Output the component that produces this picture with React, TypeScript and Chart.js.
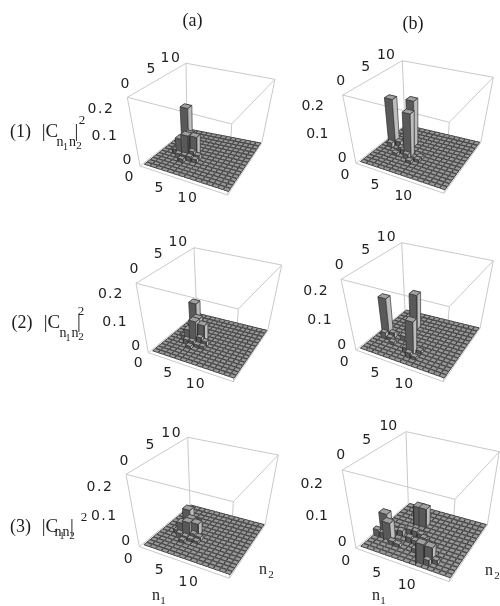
import React, { useEffect, useRef } from "react";
import { Chart, registerables } from "chart.js";

Chart.register(...registerables);

// ---- data: [n1, n2, |C|^2] for every cell that rises above the floor ----
const bars1a = [[3,8,0.175],[2,7,0.015],[3,7,0.06],[4,8,0.04],[4,7,0.085],[2,6,0.02],[3,6,0.07],[5,7,0.08],[4,6,0.09],[5,6,0.03],[3,5,0.02],[6,6,0.02],[4,5,0.02],[5,5,0.02],[6,5,0.015],[4,4,0.015]];
const bars1b = [[4,9,0.19],[1,8,0.19],[2,8,0.02],[1,7,0.02],[3,7,0.012],[4,7,0.012],[5,6,0.175],[4,6,0.02],[5,5,0.02],[7,5,0.012],[3,5,0.012],[7,6,0.012],[6,4,0.012]];
const bars2a = [[3,8,0.135],[3,7,0.05],[4,8,0.04],[4,7,0.09],[3,6,0.05],[5,7,0.07],[4,6,0.09],[5,6,0.03],[2,6,0.02],[3,5,0.02],[4,5,0.02],[6,6,0.02],[5,5,0.012],[6,5,0.012],[4,4,0.012]];
const bars2b = [[4,10,0.14],[1,6,0.15],[2,6,0.02],[1,5,0.025],[2,5,0.012],[5,7,0.015],[4,6,0.02],[7,3,0.13],[6,3,0.02],[7,2,0.02],[8,2,0.012],[3,4,0.012],[6,5,0.012],[8,4,0.012]];
const bars3a = [[3,8,0.08],[3,7,0.04],[4,8,0.04],[4,7,0.06],[3,6,0.05],[5,7,0.05],[4,6,0.06],[5,6,0.02],[2,6,0.015],[3,5,0.02],[4,5,0.015],[6,6,0.015],[5,5,0.012],[6,5,0.01],[4,4,0.012]];
const bars3b = [[1,5,0.08],[2,4,0.065],[0,4,0.025],[1,4,0.02],[4,10,0.07],[5,10,0.07],[2,6,0.015],[3,6,0.02],[4,7,0.02],[5,7,0.02],[6,7,0.015],[7,6,0.02],[7,5,0.02],[6,5,0.015],[5,5,0.02],[8,5,0.02],[3,3,0.015],[4,3,0.012],[7,3,0.015],[8,3,0.02],[9,1,0.07],[10,2,0.055],[9,2,0.015],[10,1,0.02],[11,2,0.015]];

const cellCount = 15;
const floorLevel = 0.003;
const wideFrom = 0.04;
const zTop = 0.27;
const n1Range = [-0.35, 15.1];
const n2Range = [-0.7, 15.1];

const panelCorners = [
  { tl:[127.3,97.3], tb:[186,63.3], tr:[275,79.3], tf:[231.7,124], bl:[140,166], bb:[187,129], br:[261.7,143.3], bf:[227.7,195] },
  { tl:[342.7,95], tb:[402.3,60.7], tr:[493.3,77.3], tf:[449.3,122.3], bl:[356,163.3], bb:[405,125], br:[480.7,142.7], bf:[444,193.3] },
  { tl:[136,283.3], tb:[194,247.7], tr:[281.7,265], tf:[238.3,309], bl:[148.3,352.7], bb:[196.7,313.3], br:[267.7,330.7], bf:[233.3,381.7] },
  { tl:[341,279.3], tb:[401.7,242.7], tr:[493.3,260.7], tf:[449.3,306.7], bl:[356,350], bb:[405,310], br:[480,328.3], bf:[443.3,381.7] },
  { tl:[126,474.3], tb:[187.7,437.3], tr:[278.3,455], tf:[233.3,501.7], bl:[139.3,546.7], bb:[190,505], br:[265,525], bf:[229.3,578.3] },
  { tl:[342.3,470], tb:[406,431.7], tr:[499.3,451.7], tf:[455,499.3], bl:[356,548.3], bb:[408.3,503.3], br:[487.3,525], bf:[449.3,581.7] },
];
const panelBars = [bars1a, bars1b, bars2a, bars2b, bars3a, bars3b];

// ---- text ----
const SANS = '"DejaVu Sans"';
const SERIF = '"Liberation Serif"';
const n2Ticks = ["0", "5", "10"];
const n1Ticks = ["0", "5", "10"];
const zTicks = ["0.2", "0.1", "0"];
const tickSpots = [
  { n2:[[125,84],[151,69],[171,58]], z:[[101,109],[105,136],[127,160]], n1:[[129,177],[159,188],[188,198]], wide:1.5 },
  { n2:[[340.7,81],[365.7,67.7],[386,55.7]], z:[[312.7,106.7],[317.3,134],[342.3,158.3]], n1:[[345,175.7],[375,185.7],[403.3,196.7]], wide:0 },
  { n2:[[134,269.3],[158.3,254.3],[178.3,242.7]], z:[[110.7,294.3],[115,322.3],[135.7,346]], n1:[[138.3,363.3],[167.7,373.3],[195.7,384]], wide:1 },
  { n2:[[339.3,265],[365.7,250.7],[386.7,237.7]], z:[[316,291],[320,320],[341.7,345]], n1:[[344.3,362.7],[375,373.3],[404.3,384.3]], wide:1 },
  { n2:[[124,461],[150,445.7],[171.7,433.3]], z:[[100,487.7],[104.3,516.7],[125.7,541.7]], n1:[[128.3,559.3],[159.3,570.7],[189,582.3]], wide:1.5 },
  { n2:[[340.7,455.7],[366.7,440],[388.3,426.7]], z:[[311.7,484],[316.7,516],[342.3,542.3]], n1:[[345.7,561],[376.7,573.3],[406.7,585]], wide:0 },
];
type Txt = [string, number, number, number, string?];
const serifTexts: Txt[] = [
  ["(a)",192.5,21,18],["(b)",413,24,18],
  ["(1)",20.5,132,18],["|C",50,132,19],["n",60,142,14],["1",65.5,147,10],["n",72.5,142,14],["2",79,146,11],["|",76.5,132,19],["2",82,121,13],
  ["(2)",22,323,18],["|C",52,323,19],["n",63,333,14],["1",68,338,10],["n",75,333,14],["2",81,337,11],["|",79,323,19],["2",81,312,13],
  ["(3)",20.5,527,18],["|C",50,527,19],["n",58,532,14],["1",62,536,10],["n",66,532,14],["2",72,536,11],["|",72,527,19],["2",84,518,13],
  ["n",156,596,16],["1",163,601,11],["n",263,570,16],["2",271,575,11],
  ["n",376,596,16],["1",383,601,11],["n",489,571,16],["2",497,576,11],
];

// ---- projection of (n1, n2, value) onto the page ----
type Corners = (typeof panelCorners)[number];
function project(c: Corners, n1: number, n2: number, z: number) {
  const u = (n1 - n1Range[0]) / (n1Range[1] - n1Range[0]);
  const v = (n2 - n2Range[0]) / (n2Range[1] - n2Range[0]);
  const w = z / zTop;
  const mix = (a: number[], b: number[], t: number) => [a[0] + (b[0] - a[0]) * t, a[1] + (b[1] - a[1]) * t];
  const bottom = mix(mix(c.bl, c.bf, u), mix(c.bb, c.br, u), v);
  const top = mix(mix(c.tl, c.tf, u), mix(c.tb, c.tr, u), v);
  const p = mix(bottom, top, w);
  return { x: p[0], y: p[1] };
}

function polygon(pts: {x:number;y:number}[], fillColor: string, edge: string, width: number) {
  return {
    type: "line" as const,
    data: [...pts, pts[0]],
    fill: "shape",
    backgroundColor: fillColor,
    borderColor: edge,
    borderWidth: width,
    pointRadius: 0,
    tension: 0,
    clip: false,
  };
}
function edge(a: {x:number;y:number}, b: {x:number;y:number}) {
  return { type: "line" as const, data: [a, b], fill: false, borderColor: "#c9c9c9", borderWidth: 1, pointRadius: 0, tension: 0, clip: false };
}

function panelDatasets(c: Corners, bars: number[][]) {
  const out: any[] = [];
  const P = (a: number, b: number, z: number) => project(c, a, b, z);
  const [a0, a1] = n1Range, [b0, b1] = n2Range;
  [[a0,b0,0,a1,b0,0],[a1,b0,0,a1,b1,0],[a0,b0,0,a0,b1,0],[a0,b1,0,a1,b1,0],
   [a0,b0,zTop,a1,b0,zTop],[a1,b0,zTop,a1,b1,zTop],[a0,b0,zTop,a0,b1,zTop],[a0,b1,zTop,a1,b1,zTop],
   [a0,b0,0,a0,b0,zTop],[a1,b0,0,a1,b0,zTop],[a1,b1,0,a1,b1,zTop],[a0,b1,0,a0,b1,zTop]].forEach((e) => {
    out.push(edge(P(e[0],e[1],e[2]), P(e[3],e[4],e[5])));
  });
  const lookup = new Map(bars.map((b) => [b[0] + "," + b[1], b[2]]));
  const cells: number[][] = [];
  for (let i = 0; i < cellCount; i++) for (let j = 0; j < cellCount; j++) {
    cells.push([i, j, lookup.get(i + "," + j) ?? floorLevel]);
  }
  // far cells first: small n1, large n2
  cells.sort((p, q) => (p[0] - p[1]) - (q[0] - q[1]));
  for (const [i, j, h] of cells) {
    const gap = h >= wideFrom ? -0.15 : 0.05;
    const x0 = i + gap, x1 = i + 1 - gap, y0 = j + gap, y1 = j + 1 - gap;
    const tall = h > floorLevel;
    if (tall) {
      out.push(polygon([P(x0,y0,0),P(x1,y0,0),P(x1,y0,h),P(x0,y0,h)], "#595959", "#2e2e2e", 0.7));
      out.push(polygon([P(x1,y0,0),P(x1,y1,0),P(x1,y1,h),P(x1,y0,h)], "#bdbdbd", "#3a3a3a", 0.7));
    }
    out.push(polygon([P(x0,y0,h),P(x1,y0,h),P(x1,y1,h),P(x0,y1,h)], tall ? "#a0a0a0" : "#989898", "#424242", 1));
  }
  return out;
}

const labelPlugin = {
  id: "pageText",
  afterDatasetsDraw(chart: any) {
    const ctx = chart.ctx as CanvasRenderingContext2D;
    const sx = chart.scales.x, sy = chart.scales.y;
    ctx.save();
    ctx.textAlign = "center";
    ctx.textBaseline = "middle";
    ctx.fillStyle = "#222";
    tickSpots.forEach((s) => {
      ctx.font = `14px ${SANS}`;
      const put = (labels: string[], spots: number[][]) => labels.forEach((t, i) => {
        (ctx as any).letterSpacing = t.length > 1 ? `${s.wide}px` : "0px";
        ctx.fillText(t, sx.getPixelForValue(spots[i][0]), sy.getPixelForValue(spots[i][1]));
      });
      put(n2Ticks, s.n2); put(zTicks, s.z); put(n1Ticks, s.n1);
    });
    (ctx as any).letterSpacing = "0px";
    ctx.fillStyle = "#1c1c1c";
    serifTexts.forEach(([t, x, y, size]) => {
      ctx.font = `${size}px ${SERIF}`;
      ctx.fillText(t, sx.getPixelForValue(x), sy.getPixelForValue(y));
    });
    ctx.restore();
  },
};

export default function App() {
  const ref = useRef<HTMLCanvasElement>(null);
  useEffect(() => {
    document.body.style.margin = "0";
    document.body.style.background = "#fff";
    const datasets: any[] = [];
    panelCorners.forEach((c, i) => datasets.push(...panelDatasets(c, panelBars[i])));
    // Chart.js paints the last dataset first
    datasets.reverse();
    const chart = new Chart(ref.current!, {
      type: "line",
      data: { datasets },
      plugins: [labelPlugin],
      options: {
        animation: false,
        responsive: false,
        events: [],
        layout: { padding: 0 },
        plugins: { legend: { display: false }, tooltip: { enabled: false }, title: { display: false } },
        scales: {
          x: { type: "linear", min: 0, max: 500, display: false },
          y: { type: "linear", min: 0, max: 606, reverse: true, display: false },
        },
      },
    } as any);
    return () => chart.destroy();
  }, []);
  return <canvas ref={ref} width={500} height={606} style={{ display: "block", filter: "blur(0.45px)" }} />;
}
